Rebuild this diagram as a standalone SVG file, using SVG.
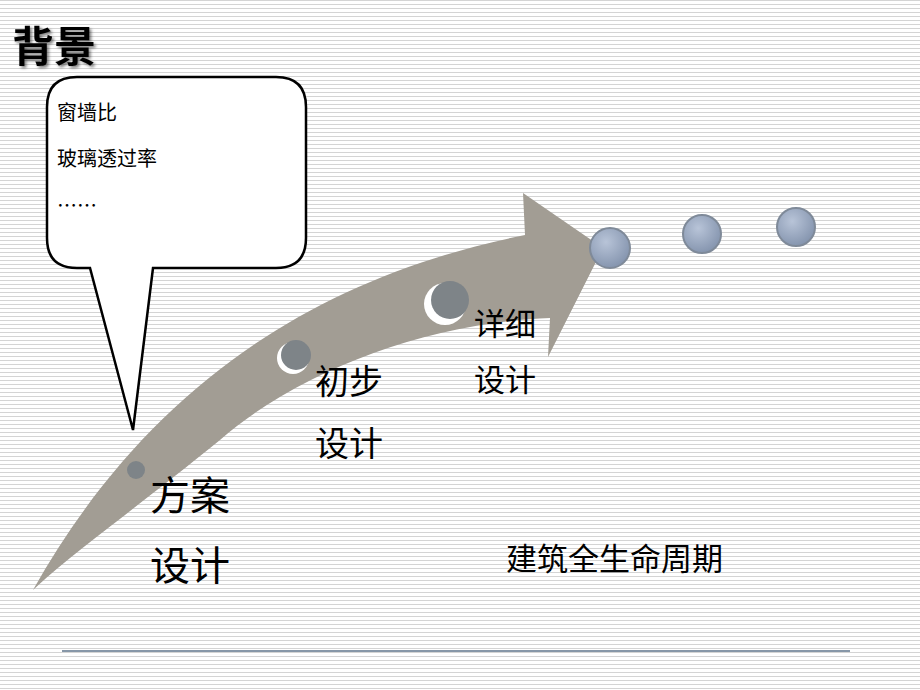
<svg xmlns="http://www.w3.org/2000/svg" width="920" height="690" viewBox="0 0 920 690">
<defs>
<pattern id="st" width="4" height="4" patternUnits="userSpaceOnUse"><rect width="4" height="4" fill="#fff"/><rect width="4" height="1" fill="#d4d4d4"/></pattern>
<radialGradient id="bl" cx="0.4" cy="0.35" r="0.7"><stop offset="0" stop-color="#b8c4d8"/><stop offset="1" stop-color="#8292ac"/></radialGradient>
<filter id="sh"><feDropShadow dx="2" dy="2" stdDeviation="1.5" flood-color="#000" flood-opacity="0.5"/></filter>
<style>.t{font-family:"Noto Sans CJK SC","Liberation Sans",sans-serif;fill:#000}.b{fill:url(#bl);stroke:#7f8a99;stroke-width:2}.h{fill:#7e8488}</style>
</defs>
<rect width="920" height="690" fill="url(#st)"/>
<text class="t" x="12" y="62" font-size="42" font-weight="bold" filter="url(#sh)">背景</text>
<g id="arrow"><path d="M33,590 C140,400 300,280 525,235 L523,193 L603,248 L548,357 L550,318 C430,322 300,370 220,440 C140,505 70,555 33,590 Z" fill="#a29d94"/></g>
<g id="bubble"><path d="M77,77 H276 Q306,77 306,107 V238 Q306,268 276,268 H153 L133,430 L90,268 H77 Q47,268 47,238 V107 Q47,77 77,77 Z" fill="#fff" stroke="#000" stroke-width="2.5"/>
<text class="t" x="57" y="120" font-size="20">窗墙比</text>
<text class="t" x="57" y="166" font-size="20">玻璃透过率</text>
<text class="t" x="57" y="213" font-size="20">……</text></g>
<g id="s1"><circle cx="136" cy="470" r="9" class="h"/><text class="t" x="150" y="510" font-size="40">方案</text><text class="t" x="150" y="580" font-size="40">设计</text></g>
<g id="s2"><circle cx="293" cy="358" r="16" fill="#fff"/><circle cx="296" cy="355" r="15" class="h"/><text class="t" x="315" y="394" font-size="34">初步</text><text class="t" x="315" y="456" font-size="34">设计</text></g>
<g id="s3"><circle cx="445" cy="304" r="21" fill="#fff"/><circle cx="450" cy="300" r="19" class="h"/><text class="t" x="474" y="335" font-size="31">详细</text><text class="t" x="474" y="391" font-size="31">设计</text></g>
<g id="dots"><circle cx="610" cy="248" r="20" class="b"/><circle cx="702" cy="234" r="19" class="b"/><circle cx="796" cy="227" r="19" class="b"/></g>
<text class="t" x="506" y="570" font-size="31">建筑全生命周期</text>
<line x1="62" y1="651" x2="850" y2="651" stroke="#8797a8" stroke-width="2"/>
</svg>
